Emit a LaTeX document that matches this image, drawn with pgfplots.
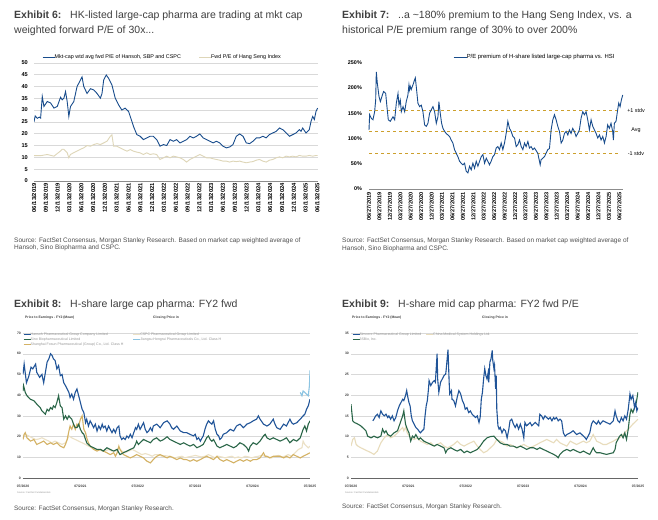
\documentclass[border=0pt]{standalone}
\usepackage{fontspec}
\setmainfont{Liberation Sans}
\usepackage{pgfplots}
\pgfplotsset{compat=1.18}

\definecolor{msblue}{RGB}{24,76,140}
\definecolor{hsibeige}{RGB}{222,214,184}
\definecolor{stdvgold}{RGB}{205,160,45}
\definecolor{gridgray}{RGB}{217,217,217}
\definecolor{txtgray}{RGB}{64,64,64}
\definecolor{srcgray}{RGB}{80,80,80}
\definecolor{leggray}{RGB}{150,150,150}
\definecolor{hansohblue}{RGB}{32,84,152}
\definecolor{sinogreen}{RGB}{42,102,72}
\definecolor{fosungold}{RGB}{212,178,100}
\definecolor{cspcbeige}{RGB}{236,225,198}
\definecolor{hengruiblue}{RGB}{140,196,226}
\definecolor{cmsbeige}{RGB}{232,220,188}

\newcommand\sz[1]{\fontsize{#1}{#1}\selectfont}

\pgfplotsset{
  msbase/.style={
    scale only axis, anchor=south west,
    axis x line*=bottom, axis y line*=left,
    y axis line style={draw=none},
    x axis line style={draw=black!45, line width=0.4pt},
    tick style={draw=none},
    legend cell align=left,
    /pgf/number format/assume math mode=true,
  },
  gridded/.style={ymajorgrids, grid style={gridgray, line width=0.4pt}},
}

\begin{document}
\begin{tikzpicture}
\path[use as bounding box, fill=white] (0,0) rectangle (658pt,-519pt);

% ---------------- titles and sources ----------------
\node[anchor=base west, inner sep=0pt, font=\sz{10.5}\bfseries, text=txtgray] at (14pt,-19pt) {Exhibit 6:};
\node[anchor=base west, inner sep=0pt, font=\sz{10.5}, text=txtgray] at (70pt,-19pt) {HK-listed large-cap pharma are trading at mkt cap};
\node[anchor=base west, inner sep=0pt, font=\sz{10.5}, text=txtgray] at (14pt,-34pt) {weighted forward P/E of 30x...};

\node[anchor=base west, inner sep=0pt, font=\sz{10.5}\bfseries, text=txtgray] at (342pt,-19pt) {Exhibit 7:};
\node[anchor=base west, inner sep=0pt, font=\sz{10.5}, text=txtgray] at (398pt,-19pt) {..a \textasciitilde180\% premium to the Hang Seng Index, vs. a};
\node[anchor=base west, inner sep=0pt, font=\sz{10.5}, text=txtgray] at (342pt,-34pt) {historical P/E premium range of 30\% to over 200\%};

\node[anchor=base west, inner sep=0pt, font=\sz{10.5}\bfseries, text=txtgray] at (14pt,-307pt) {Exhibit 8:};
\node[anchor=base west, inner sep=0pt, font=\sz{10.5}, text=txtgray] at (70pt,-307pt) {H-share large cap pharma: FY2 fwd};

\node[anchor=base west, inner sep=0pt, font=\sz{10.5}\bfseries, text=txtgray] at (342pt,-307pt) {Exhibit 9:};
\node[anchor=base west, inner sep=0pt, font=\sz{10.5}, text=txtgray] at (398pt,-307pt) {H-share mid cap pharma: FY2 fwd P/E};

\node[anchor=base west, inner sep=0pt, font=\sz{6.5}, text=srcgray] at (14pt,-242pt) {Source: FactSet Consensus, Morgan Stanley Research. Based on market cap weighted average of};
\node[anchor=base west, inner sep=0pt, font=\sz{6.5}, text=srcgray] at (14pt,-249.5pt) {Hansoh, Sino Biopharma and CSPC.};
\node[anchor=base west, inner sep=0pt, font=\sz{6.5}, text=srcgray] at (342pt,-242.5pt) {Source: FactSet Consensus, Morgan Stanley Research. Based on market cap weighted average of};
\node[anchor=base west, inner sep=0pt, font=\sz{6.5}, text=srcgray] at (342pt,-250pt) {Hansoh, Sino Biopharma and CSPC.};
\node[anchor=base west, inner sep=0pt, font=\sz{6.4}, text=srcgray] at (14pt,-510pt) {Source: FactSet Consensus, Morgan Stanley Research.};
\node[anchor=base west, inner sep=0pt, font=\sz{6.4}, text=srcgray] at (342pt,-508pt) {Source: FactSet Consensus, Morgan Stanley Research.};

\node[anchor=west, inner sep=0pt, font=\sz{3.4}\bfseries, text=txtgray] at (25pt,-318pt) {Price to Earnings - FY2 (Mean)};
\node[anchor=west, inner sep=0pt, font=\sz{3.4}\bfseries, text=txtgray] at (153pt,-318pt) {Closing Price in};
\node[anchor=west, inner sep=0pt, font=\sz{3.4}\bfseries, text=txtgray] at (352pt,-318pt) {Price to Earnings - FY2 (Mean)};
\node[anchor=west, inner sep=0pt, font=\sz{3.4}\bfseries, text=txtgray] at (482pt,-318pt) {Closing Price in};
\node[anchor=west, inner sep=0pt, font=\sz{2.4}, text=leggray] at (17pt,-493pt) {Source: FactSet Fundamentals};
\node[anchor=west, inner sep=0pt, font=\sz{2.4}, text=leggray] at (345pt,-493pt) {Source: FactSet Fundamentals};

% ---------------- Exhibit 6 ----------------
\begin{axis}[msbase, gridded,
  at={(34pt,-181pt)}, width=284pt, height=118.3pt,
  xmin=0, xmax=24.05, ymin=0, ymax=50,
  ytick={0,5,...,50},
  xtick={0,1,...,24},
  xticklabels={06/13/2019,09/13/2019,12/13/2019,03/13/2020,06/13/2020,09/13/2020,12/13/2020,03/13/2021,06/13/2021,09/13/2021,12/13/2021,03/13/2022,06/13/2022,09/13/2022,12/13/2022,03/13/2023,06/13/2023,09/13/2023,12/13/2023,03/13/2024,06/13/2024,09/13/2024,12/13/2024,03/13/2025,06/13/2025},
  x tick label style={rotate=90, anchor=east, inner sep=2pt, font=\sz{5.8}\bfseries},
  y tick label style={inner sep=0pt, xshift=-6pt, font=\sz{5.6}\bfseries},
  legend columns=2,
  legend style={at={(0.028,1.048)}, anchor=west, draw=none, fill=none, inner sep=0pt,
    font=\sz{5.4}, nodes={inner sep=0.6pt},
    /tikz/every odd column/.append style={column sep=-1pt},
    /tikz/every even column/.append style={column sep=17pt}},
  legend image code/.code={\draw[#1] (0pt,0pt) -- (12pt,0pt);},
]
\addlegendimage{msblue, line width=0.9pt}
\addlegendentry{Mkt-cap wtd avg fwd P/E of Hansoh, SBP and CSPC}
\addlegendimage{hsibeige, line width=0.9pt}
\addlegendentry{Fwd P/E of Hang Seng Index}
\addplot[hsibeige, line width=0.9pt, forget plot] coordinates {
(0,10.7)(0.56,10.7)(1.12,11.2)(1.69,10.5)(2.25,12.7)(2.39,13.4)(2.53,13.4)(2.81,12)(2.95,9.8)(3.09,11.2)(3.37,12)(3.65,12.7)(3.93,13.4)(4.21,14)(4.49,15)(4.78,14.7)(5.06,15.4)(5.34,15.8)(5.62,15.4)(5.90,16.1)(6.18,16.8)(6.46,18.9)(6.60,19.5)(6.74,14.7)(7.02,14.7)(7.30,14)(7.58,13.3)(7.87,12.6)(8.15,13.3)(8.43,12.6)(8.71,12.2)(8.99,11.9)(9.27,11.2)(9.55,11.9)(9.83,11.2)(10.11,11.5)(10.39,11.2)(10.67,9.1)(10.96,9.8)(11.24,10.5)(11.52,9.8)(11.80,10.5)(12.08,10.2)(12.36,9.8)(12.64,9.1)(12.92,8)(13.20,9.1)(13.48,9.8)(13.76,10.5)(14.04,11.2)(14.33,10.5)(14.61,9.8)(14.89,9.8)(15.17,9.4)(15.45,9.1)(15.73,8.8)(16.01,8.4)(16.29,8.4)(16.57,8)(16.85,8.4)(17.13,8.2)(17.42,8.4)(17.70,8)(17.98,7.7)(18.26,8)(18.54,8.2)(18.82,8.8)(19.10,9.1)(19.38,8.4)(19.66,8)(19.94,8.8)(20.22,9.1)(20.51,9.8)(20.79,10.2)(21.07,9.8)(21.35,10.5)(21.63,10.2)(21.91,10.5)(22.19,10.2)(22.47,10.8)(22.75,10.5)(23.03,10.5)(23.31,10.8)(23.60,10.5)(23.88,10.8)(24.02,10.8)};
\addplot[msblue, line width=0.9pt, forget plot] coordinates {
(0,25)(0.1,27.5)(0.28,26.5)(0.45,27)(0.56,26.6)(0.70,35.7)(0.84,31.5)(1.12,33.6)(1.40,33)(1.69,30.8)(1.97,31.5)(2.25,35.4)(2.39,34.3)(2.53,35)(2.67,37.8)(2.81,33.6)(2.95,27.3)(3.09,31.5)(3.37,33.6)(3.65,40)(3.79,41.3)(3.93,42.7)(4.07,44)(4.21,40)(4.49,37)(4.78,39)(5.06,38.5)(5.34,37)(5.62,35)(5.76,37)(5.90,42.7)(6.12,44.8)(6.32,43.4)(6.60,40.6)(6.88,35)(7.16,32.2)(7.44,30)(7.72,30.8)(8.01,29.4)(8.29,25.2)(8.43,23)(8.71,19.6)(8.99,18.9)(9.27,17.5)(9.55,18.2)(9.83,18.9)(10.11,18.9)(10.39,17.5)(10.67,14.7)(10.96,15.4)(11.24,15)(11.52,17.5)(11.80,16.8)(12.08,17.5)(12.36,16.1)(12.64,16.8)(12.92,17.5)(13.20,18.9)(13.48,18.2)(13.76,18.9)(14.04,19.9)(14.33,18.2)(14.61,17.5)(14.89,16.8)(15.17,16.1)(15.45,16.8)(15.73,16.1)(16.01,14.7)(16.29,14)(16.57,14.4)(16.85,15.4)(17.13,18.9)(17.42,19.9)(17.70,18.9)(17.98,16.1)(18.26,15.8)(18.54,16.8)(18.82,18.2)(19.10,18.2)(19.38,18.9)(19.66,18.2)(19.94,19.6)(20.22,20.3)(20.51,21)(20.79,22.4)(21.07,21.7)(21.35,20.3)(21.63,18.9)(21.91,19.6)(22.19,20.3)(22.47,21.7)(22.61,21)(22.75,22.4)(23.03,20.3)(23.31,21.7)(23.46,25.2)(23.60,27.3)(23.74,26)(23.88,29.4)(24.02,30.8)};
\end{axis}

% ---------------- Exhibit 7 ----------------
\begin{axis}[msbase, clip=false,
  at={(369pt,-189pt)}, width=254pt, height=126.3pt,
  xmin=0, xmax=24.35, ymin=0, ymax=250,
  ytick={0,50,...,250},
  yticklabels={0\%,50\%,100\%,150\%,200\%,250\%},
  xtick={0,1,...,24},
  xticklabels={06/27/2019,09/27/2019,12/27/2019,03/27/2020,06/27/2020,09/27/2020,12/27/2020,03/27/2021,06/27/2021,09/27/2021,12/27/2021,03/27/2022,06/27/2022,09/27/2022,12/27/2022,03/27/2023,06/27/2023,09/27/2023,12/27/2023,03/27/2024,06/27/2024,09/27/2024,12/27/2024,03/27/2025,06/27/2025},
  x tick label style={rotate=90, anchor=east, inner sep=3pt, font=\sz{5.6}\bfseries},
  y tick label style={inner sep=0pt, xshift=-7pt, font=\sz{5.4}\bfseries},
  legend style={at={(0.331,1.045)}, anchor=west, draw=none, fill=none, inner sep=0pt,
    font=\sz{5.9}, nodes={inner sep=0.6pt},
    /tikz/every odd column/.append style={column sep=-1pt}},
  legend image code/.code={\draw[#1] (0pt,0pt) -- (13pt,0pt);},
]
\addlegendimage{msblue, line width=0.9pt}
\addlegendentry{P/E premium of H-share listed large-cap pharma vs. HSI}
\addplot[stdvgold, dashed, line width=0.6pt, forget plot] coordinates {(0,156)(24.1,156)};
\addplot[stdvgold, dashed, line width=0.6pt, forget plot] coordinates {(0,114)(24.1,114)};
\addplot[stdvgold, dashed, line width=0.6pt, forget plot] coordinates {(0,71)(24.1,71)};
\addplot[msblue, line width=0.9pt, forget plot] coordinates {
(0,117)(0.06,147)(0.22,140)(0.38,137)(0.54,153)(0.64,176)(0.70,232)(0.80,209)(0.96,183)(1.09,173)(1.28,186)(1.40,193)(1.60,189)(1.72,163)(1.85,137)(2.04,134)(2.30,143)(2.46,137)(2.62,170)(2.78,189)(2.87,166)(3.00,176)(3.10,153)(3.26,163)(3.42,153)(3.57,173)(3.73,186)(3.83,206)(3.89,196)(3.96,203)(4.05,197)(4.21,206)(4.37,216)(4.44,220)(4.53,203)(4.69,170)(4.85,163)(5.01,166)(5.17,153)(5.33,127)(5.49,124)(5.65,130)(5.81,150)(5.97,157)(6.13,163)(6.29,153)(6.45,130)(6.61,143)(6.70,173)(6.83,150)(6.96,130)(7.09,120)(7.25,114)(7.40,110)(7.56,107)(7.72,104)(7.88,97)(8.04,91)(8.20,78)(8.36,71)(8.52,64)(8.68,55)(8.84,51)(9.00,48)(9.16,51)(9.32,35)(9.48,32)(9.64,45)(9.80,38)(9.96,51)(10.12,41)(10.28,55)(10.44,45)(10.60,55)(10.76,64)(10.92,68)(11.08,51)(11.24,61)(11.39,55)(11.55,48)(11.71,55)(11.87,64)(12.03,68)(12.19,81)(12.35,84)(12.51,78)(12.67,91)(12.83,78)(12.99,91)(13.15,110)(13.31,134)(13.47,120)(13.63,114)(13.79,104)(13.95,101)(14.11,84)(14.27,88)(14.43,97)(14.59,84)(14.75,78)(14.91,91)(15.06,84)(15.23,94)(15.38,81)(15.54,84)(15.70,78)(15.86,81)(16.02,76)(16.18,71)(16.41,48)(16.50,58)(16.66,61)(16.82,64)(16.98,71)(17.14,78)(17.30,80)(17.46,117)(17.62,137)(17.78,147)(17.94,137)(18.10,124)(18.26,114)(18.42,91)(18.58,97)(18.74,110)(18.90,114)(19.06,107)(19.21,117)(19.37,110)(19.53,120)(19.69,114)(19.85,104)(20.01,110)(20.17,117)(20.33,140)(20.49,153)(20.65,147)(20.81,153)(20.97,137)(21.13,117)(21.29,137)(21.45,124)(21.61,117)(21.77,110)(21.93,101)(22.09,107)(22.25,97)(22.41,104)(22.57,91)(22.73,104)(22.88,127)(23.04,120)(23.20,130)(23.36,114)(23.43,97)(23.52,130)(23.68,134)(23.84,157)(23.94,170)(24.07,163)(24.19,176)(24.32,186)};
\node[font=\sz{5.4}, inner sep=0pt] at (axis cs:25.6,156) {+1 stdv};
\node[font=\sz{5.4}, inner sep=0pt] at (axis cs:25.6,116) {Avg};
\node[font=\sz{5.4}, inner sep=0pt] at (axis cs:25.6,71) {-1 stdv};
\end{axis}

% ---------------- Exhibit 8 ----------------
\begin{axis}[msbase, gridded,
  at={(23pt,-478pt)}, width=287pt, height=145pt,
  xmin=2020.5, xmax=2025.5, ymin=0, ymax=70,
  ytick={0,10,...,70},
  xtick={2020.5,2021.5,2022.5,2023.5,2024.5,2025.5},
  xticklabels={07/2020,07/2021,07/2022,07/2023,07/2024,07/2025},
  x axis line style={draw=black!60, line width=0.5pt},
  x tick label style={inner sep=0pt, yshift=-7pt, font=\sz{3.4}\bfseries, text=txtgray},
  y tick label style={inner sep=0pt, xshift=-2pt, font=\sz{3.4}\bfseries, text=txtgray},
  legend columns=2,
  legend style={at={(0,1.005)}, anchor=north west, draw=none, fill=none, inner sep=0pt,
    font=\sz{3.55}, text=leggray,
    nodes={inner sep=0.4pt, text height=2.9pt, text depth=1.0pt},
    /tikz/every odd column/.append style={column sep=-1pt},
    /tikz/every even column/.append style={column sep=9pt}},
  legend image code/.code={\draw[#1] (0pt,0pt) -- (7pt,0pt);},
]
\addlegendimage{hansohblue, line width=1.1pt}
\addlegendentry{Hansoh Pharmaceutical Group Company Limited}
\addlegendimage{cspcbeige, line width=1.1pt}
\addlegendentry{CSPC Pharmaceutical Group Limited}
\addlegendimage{sinogreen, line width=1.1pt}
\addlegendentry{Sino Biopharmaceutical Limited}
\addlegendimage{hengruiblue, line width=1.1pt}
\addlegendentry{Jiangsu Hengrui Pharmaceuticals Co., Ltd. Class H}
\addlegendimage{fosungold, line width=1.1pt}
\addlegendentry{Shanghai Fosun Pharmaceutical (Group) Co., Ltd. Class H}
\addplot[cspcbeige, line width=1.1pt, forget plot] coordinates {
(2020.50,20.3)(2020.54,21.1)(2020.60,20.3)(2020.66,19.4)(2020.72,18.6)(2020.77,18.8)(2020.83,19.4)(2020.89,18.6)(2020.95,17.8)(2021.00,17)(2021.06,17.8)(2021.12,17)(2021.18,16.2)(2021.24,17)(2021.30,20.3)(2021.35,19.4)(2021.41,18.6)(2021.47,17.8)(2021.53,17)(2021.59,16.2)(2021.64,15.4)(2021.70,14.6)(2021.76,13.8)(2021.82,13.8)(2021.88,13)(2021.93,13)(2021.99,13.8)(2022.05,13)(2022.11,13)(2022.17,14.6)(2022.22,13)(2022.28,12.2)(2022.34,13)(2022.40,13.8)(2022.46,13)(2022.51,12.2)(2022.57,11.3)(2022.63,11.8)(2022.69,11.3)(2022.75,10.5)(2022.80,11.3)(2022.86,11.3)(2022.92,10.5)(2022.98,10.8)(2023.03,10.5)(2023.09,10.2)(2023.15,9.7)(2023.21,10.2)(2023.27,10.5)(2023.32,9.7)(2023.38,10.2)(2023.44,10.5)(2023.50,10.9)(2023.56,10.5)(2023.61,10.2)(2023.67,10.5)(2023.73,11.3)(2023.79,10.5)(2023.85,9.7)(2023.90,10.5)(2023.96,10.2)(2024.02,9.7)(2024.08,10.2)(2024.14,10.5)(2024.19,9.7)(2024.25,10.2)(2024.31,9.7)(2024.37,10.5)(2024.43,10.2)(2024.48,9.7)(2024.54,10.2)(2024.60,10.5)(2024.66,10.9)(2024.72,10.5)(2024.77,10.2)(2024.83,9.7)(2024.89,10.5)(2024.95,10.9)(2025.01,10.2)(2025.06,10.5)(2025.12,11.3)(2025.18,10.5)(2025.24,12.2)(2025.30,13.8)(2025.36,14.6)(2025.38,17.8)(2025.41,16.2)(2025.44,15.4)(2025.47,14.6)(2025.50,15.4)};
\addplot[fosungold, line width=1.1pt, forget plot] coordinates {
(2020.50,18.6)(2020.52,21.1)(2020.54,21.9)(2020.57,19.4)(2020.63,17.8)(2020.69,18.6)(2020.74,16.2)(2020.80,17)(2020.86,17.8)(2020.92,16.2)(2020.98,17)(2021.03,16.2)(2021.09,17)(2021.15,15.4)(2021.21,14.6)(2021.24,16.2)(2021.27,18.6)(2021.30,22.7)(2021.32,25.1)(2021.35,23.5)(2021.38,26)(2021.41,23.5)(2021.44,26)(2021.47,25.1)(2021.50,28.4)(2021.53,30)(2021.56,23.5)(2021.59,21.9)(2021.61,19.4)(2021.64,17)(2021.67,15.4)(2021.73,13.8)(2021.79,13)(2021.85,13.8)(2021.90,13)(2021.96,12.2)(2022.02,11.3)(2022.08,12.2)(2022.11,10.5)(2022.14,12.2)(2022.17,15.4)(2022.19,13.8)(2022.25,11.3)(2022.31,10.5)(2022.37,9.7)(2022.43,10.5)(2022.48,11.3)(2022.54,10.5)(2022.60,9.7)(2022.66,8.1)(2022.72,7.3)(2022.77,8.9)(2022.83,10.5)(2022.89,11.3)(2022.95,10.5)(2023.01,9.7)(2023.06,10.5)(2023.12,9.7)(2023.18,8.9)(2023.24,9.7)(2023.30,8.9)(2023.35,8.9)(2023.41,8.1)(2023.47,8.9)(2023.53,8.1)(2023.59,8.9)(2023.64,9.7)(2023.70,10.5)(2023.76,9.7)(2023.82,8.9)(2023.88,10.5)(2023.93,8.9)(2023.99,8.1)(2024.05,8.9)(2024.11,8.1)(2024.17,7.3)(2024.22,8.1)(2024.28,8.9)(2024.34,8.1)(2024.40,8.9)(2024.46,8.1)(2024.51,8.9)(2024.57,8.9)(2024.63,9.7)(2024.69,12.2)(2024.72,10.5)(2024.75,10.5)(2024.80,9.7)(2024.86,10.5)(2024.92,10.5)(2024.98,10.5)(2025.04,9.7)(2025.09,10.5)(2025.15,9.7)(2025.21,11.3)(2025.27,10.5)(2025.33,9.7)(2025.38,10.5)(2025.44,11.3)(2025.50,12.2)};
\addplot[sinogreen, line width=1.1pt, forget plot] coordinates {
(2020.50,42)(2020.51,44.6)(2020.54,41.3)(2020.57,39.7)(2020.63,38)(2020.69,37.3)(2020.74,35.7)(2020.80,34)(2020.83,32.4)(2020.86,31.6)(2020.89,30.8)(2020.92,33.2)(2020.95,32.4)(2020.98,34)(2021.01,33.2)(2021.03,34.8)(2021.06,34)(2021.09,36.5)(2021.12,39.7)(2021.15,34.8)(2021.18,34)(2021.21,28.4)(2021.24,30)(2021.27,28.4)(2021.30,30)(2021.32,29.2)(2021.35,28.4)(2021.38,26)(2021.41,24.3)(2021.44,24.3)(2021.47,26)(2021.50,23.5)(2021.53,21.9)(2021.56,21.1)(2021.59,18.6)(2021.61,17)(2021.67,15.4)(2021.73,14.6)(2021.79,13.8)(2021.85,13.8)(2021.90,13)(2021.96,14.6)(2022.02,13.8)(2022.08,13)(2022.14,13.8)(2022.17,12.2)(2022.19,11.3)(2022.25,12.2)(2022.31,13)(2022.37,13.8)(2022.43,14.6)(2022.46,16.2)(2022.48,17.8)(2022.51,16.2)(2022.54,17)(2022.60,18.6)(2022.66,17.8)(2022.72,17)(2022.77,18.6)(2022.83,19.4)(2022.89,17.8)(2022.95,18.6)(2023.01,19.9)(2023.06,18.6)(2023.12,17.8)(2023.18,17)(2023.24,16.2)(2023.30,17)(2023.35,16.2)(2023.41,15.4)(2023.47,16.2)(2023.53,14.6)(2023.59,15.4)(2023.64,16.2)(2023.67,17.8)(2023.70,19.4)(2023.73,20.3)(2023.76,18.6)(2023.79,17.8)(2023.82,18.6)(2023.85,17)(2023.88,15.4)(2023.93,14.6)(2023.99,15.4)(2024.05,16.2)(2024.11,15.4)(2024.17,14.6)(2024.22,15.4)(2024.28,17)(2024.34,16.2)(2024.40,14.6)(2024.43,13)(2024.46,15.4)(2024.51,17)(2024.57,16.2)(2024.63,17.8)(2024.69,20.3)(2024.72,21.1)(2024.75,19.4)(2024.80,18.6)(2024.86,19.4)(2024.92,18.6)(2024.98,17.8)(2025.04,18.6)(2025.09,19.4)(2025.15,17)(2025.21,18.6)(2025.27,17.8)(2025.33,19.4)(2025.38,23.5)(2025.41,25.1)(2025.44,22.7)(2025.47,26)(2025.50,27.6)};
\addplot[hansohblue, line width=1.1pt, forget plot] coordinates {
(2020.50,50)(2020.52,55)(2020.56,46)(2020.60,49)(2020.64,53.5)(2020.67,52.7)(2020.72,55)(2020.74,51)(2020.79,48.6)(2020.83,50)(2020.86,46)(2020.89,51)(2020.92,56)(2020.95,57.5)(2020.98,60)(2021.01,59)(2021.03,57.5)(2021.06,56.7)(2021.09,52.7)(2021.12,54.3)(2021.15,49.4)(2021.18,50)(2021.21,46)(2021.24,44.6)(2021.27,43)(2021.30,41.3)(2021.32,38.9)(2021.35,40.5)(2021.38,38)(2021.41,41.3)(2021.44,43)(2021.47,39.7)(2021.50,36.5)(2021.53,33.2)(2021.56,31.6)(2021.59,26.7)(2021.61,28.4)(2021.64,25.1)(2021.67,27.6)(2021.70,26)(2021.73,24.3)(2021.76,26)(2021.79,22.7)(2021.82,25.1)(2021.85,23.5)(2021.88,26)(2021.90,24.3)(2021.93,25.1)(2021.96,22.7)(2021.99,25.1)(2022.02,23.5)(2022.05,21.9)(2022.08,23.5)(2022.11,21.9)(2022.14,24.3)(2022.17,25.1)(2022.19,20.3)(2022.22,18.6)(2022.25,19.4)(2022.28,18.6)(2022.31,20.3)(2022.34,19.4)(2022.37,21.1)(2022.40,19.4)(2022.43,21.9)(2022.46,24.3)(2022.48,23.5)(2022.51,26)(2022.54,23.5)(2022.57,25.1)(2022.60,26.7)(2022.63,23.5)(2022.66,21.9)(2022.69,22.7)(2022.72,24.3)(2022.75,22.7)(2022.77,25.1)(2022.83,26)(2022.89,24.3)(2022.95,26.7)(2023.01,27.6)(2023.04,26.7)(2023.06,26)(2023.09,24.3)(2023.12,23.5)(2023.18,25.1)(2023.24,22.7)(2023.30,21.9)(2023.35,21.9)(2023.41,21.1)(2023.47,20.3)(2023.50,21.1)(2023.53,18.6)(2023.56,19.4)(2023.59,17.8)(2023.62,19.4)(2023.64,20.3)(2023.67,23.5)(2023.70,26)(2023.73,27.6)(2023.76,26.7)(2023.79,26)(2023.82,27.6)(2023.85,23.5)(2023.88,21.1)(2023.91,20.3)(2023.93,18.6)(2023.96,19.4)(2023.99,21.1)(2024.05,21.9)(2024.11,23.5)(2024.17,22.7)(2024.22,25.1)(2024.28,26)(2024.34,24.3)(2024.40,26)(2024.46,26.7)(2024.51,27.6)(2024.57,28.4)(2024.60,30)(2024.63,28.4)(2024.69,26)(2024.75,25.1)(2024.80,26)(2024.86,28.4)(2024.89,26)(2024.92,24.3)(2024.98,23.5)(2025.04,26)(2025.09,25.1)(2025.15,28.4)(2025.18,26.7)(2025.21,26)(2025.27,26.7)(2025.33,28.4)(2025.38,30)(2025.41,30.8)(2025.44,33.2)(2025.47,34.8)(2025.50,38)};
\addplot[hengruiblue, line width=1.1pt, forget plot] coordinates {
(2025.33,41.3)(2025.36,39.7)(2025.38,42)(2025.41,41.3)(2025.44,40.5)(2025.47,39.7)(2025.49,44.6)(2025.50,51.9)};
\end{axis}

% ---------------- Exhibit 9 ----------------
\begin{axis}[msbase, gridded,
  at={(351pt,-478pt)}, width=287pt, height=145pt,
  xmin=2020.5, xmax=2025.5, ymin=0, ymax=35,
  ytick={0,5,...,35},
  xtick={2020.5,2021.5,2022.5,2023.5,2024.5,2025.5},
  xticklabels={07/2020,07/2021,07/2022,07/2023,07/2024,07/2025},
  x axis line style={draw=black!60, line width=0.5pt},
  x tick label style={inner sep=0pt, yshift=-7pt, font=\sz{3.4}\bfseries, text=txtgray},
  y tick label style={inner sep=0pt, xshift=-2pt, font=\sz{3.4}\bfseries, text=txtgray},
  legend columns=2,
  legend style={at={(0.003,1.005)}, anchor=north west, draw=none, fill=none, inner sep=0pt,
    font=\sz{3.55}, text=leggray,
    nodes={inner sep=0.4pt, text height=2.9pt, text depth=1.0pt},
    /tikz/every odd column/.append style={column sep=-1pt},
    /tikz/every even column/.append style={column sep=4pt}},
  legend image code/.code={\draw[#1] (0pt,0pt) -- (7pt,0pt);},
]
\addlegendimage{hansohblue, line width=1.1pt}
\addlegendentry{Simcere Pharmaceutical Group Limited}
\addlegendimage{cmsbeige, line width=1.1pt}
\addlegendentry{China Medical System Holdings Ltd.}
\addlegendimage{sinogreen, line width=1.1pt}
\addlegendentry{3SBio, Inc.}
\addplot[cmsbeige, line width=1.1pt, forget plot] coordinates {
(2020.50,7.7)(2020.53,9.3)(2020.56,9.7)(2020.59,8.1)(2020.62,7.7)(2020.67,7.3)(2020.73,6.9)(2020.79,6.5)(2020.85,6.1)(2020.90,5.7)(2020.96,6.5)(2021.02,8.5)(2021.08,9.7)(2021.14,10.5)(2021.19,9.7)(2021.25,10.1)(2021.31,10.9)(2021.37,11.8)(2021.40,12.2)(2021.42,11.4)(2021.45,12.2)(2021.48,10.9)(2021.54,9.7)(2021.60,9.3)(2021.66,9.7)(2021.71,8.9)(2021.77,8.5)(2021.83,8.1)(2021.89,8.5)(2021.95,7.7)(2022.00,8.1)(2022.06,8.5)(2022.12,7.7)(2022.18,7.3)(2022.24,7.7)(2022.29,8.1)(2022.35,8.9)(2022.41,8.1)(2022.47,7.7)(2022.52,8.1)(2022.58,8.5)(2022.64,8.9)(2022.70,7.7)(2022.75,6.9)(2022.81,6.1)(2022.87,6.5)(2022.93,7.3)(2022.99,8.1)(2023.04,9.3)(2023.10,8.9)(2023.16,8.5)(2023.22,7.7)(2023.27,8.1)(2023.33,7.7)(2023.39,7.3)(2023.45,7.7)(2023.51,8.1)(2023.56,7.7)(2023.62,7.3)(2023.68,7.7)(2023.74,8.1)(2023.79,8.5)(2023.85,8.9)(2023.91,9.3)(2023.97,8.9)(2024.03,8.5)(2024.08,9.3)(2024.14,8.5)(2024.20,8.1)(2024.26,7.7)(2024.32,8.9)(2024.37,8.5)(2024.43,8.1)(2024.49,8.5)(2024.55,8.9)(2024.60,8.5)(2024.66,8.9)(2024.72,10.5)(2024.75,9.7)(2024.78,8.9)(2024.84,8.5)(2024.89,8.1)(2024.95,8.1)(2025.01,8.5)(2025.07,8.9)(2025.12,9.3)(2025.18,9.7)(2025.24,10.5)(2025.30,11.4)(2025.36,12.2)(2025.41,13)(2025.47,13.8)(2025.50,14.2)};
\addplot[sinogreen, line width=1.1pt, forget plot] coordinates {
(2020.50,17.8)(2020.53,13.8)(2020.56,13.4)(2020.62,13)(2020.67,12.6)(2020.73,11.8)(2020.76,11.4)(2020.79,10.1)(2020.85,9.7)(2020.90,10.1)(2020.96,9.7)(2021.02,10.1)(2021.05,11.8)(2021.08,10.9)(2021.11,11.4)(2021.14,10.5)(2021.19,10.1)(2021.25,10.9)(2021.31,11.4)(2021.34,12.6)(2021.37,13.8)(2021.40,15)(2021.42,16.2)(2021.45,13)(2021.48,11.8)(2021.51,10.9)(2021.54,8.9)(2021.57,10.1)(2021.60,9.7)(2021.63,10.5)(2021.66,9.7)(2021.68,9.3)(2021.71,9.7)(2021.77,8.9)(2021.83,8.5)(2021.89,8.1)(2021.95,7.7)(2022.00,8.1)(2022.06,7.7)(2022.12,7.3)(2022.15,6.1)(2022.18,6.9)(2022.24,7.3)(2022.29,6.9)(2022.35,6.5)(2022.41,6.9)(2022.47,6.1)(2022.52,6.5)(2022.58,6.1)(2022.64,6.5)(2022.70,6.9)(2022.75,7.7)(2022.81,8.9)(2022.87,9.7)(2022.93,10)(2022.99,10.1)(2023.04,9.3)(2023.10,8.5)(2023.16,8.1)(2023.22,8.1)(2023.27,7.7)(2023.33,7.7)(2023.39,7.3)(2023.45,7.7)(2023.51,7.3)(2023.56,6.9)(2023.62,7.3)(2023.68,7.3)(2023.74,6.9)(2023.79,7.3)(2023.85,6.9)(2023.91,6.5)(2023.97,6.1)(2024.03,5.7)(2024.08,5.3)(2024.11,4.9)(2024.14,5.7)(2024.20,6.5)(2024.26,6.9)(2024.32,6.5)(2024.37,6.9)(2024.43,6.5)(2024.49,6.1)(2024.55,6.5)(2024.60,6.1)(2024.66,5.7)(2024.72,7.3)(2024.75,6.5)(2024.78,6.1)(2024.84,6.1)(2024.89,5.9)(2024.95,5.7)(2025.01,5.9)(2025.07,6.1)(2025.10,6.9)(2025.12,8.5)(2025.15,9.3)(2025.18,10.1)(2025.21,10.5)(2025.24,9.7)(2025.27,10.9)(2025.30,9.3)(2025.33,11.8)(2025.36,15.4)(2025.38,16.6)(2025.41,15.8)(2025.44,17)(2025.47,18.2)(2025.50,20.7)};
\addplot[hansohblue, line width=1.1pt, forget plot] coordinates {
(2020.88,13.8)(2020.90,14.2)(2020.93,15)(2020.96,15.4)(2020.99,14.6)(2021.02,16.2)(2021.05,15.4)(2021.08,15)(2021.11,15.4)(2021.14,14.6)(2021.16,15)(2021.19,14.2)(2021.22,15)(2021.25,13.8)(2021.28,14.6)(2021.31,16.2)(2021.34,17.4)(2021.37,18.2)(2021.40,19)(2021.42,18.7)(2021.45,19.9)(2021.47,21.1)(2021.49,19.5)(2021.51,18.2)(2021.53,17.4)(2021.55,15)(2021.57,13.8)(2021.60,13)(2021.63,12.2)(2021.66,11.8)(2021.68,11.4)(2021.71,10.9)(2021.74,11.4)(2021.77,11.8)(2021.79,15)(2021.81,17.4)(2021.83,18.7)(2021.85,21.5)(2021.86,23.5)(2021.89,22.3)(2021.92,23.1)(2021.95,23.5)(2021.97,23.1)(2022.00,30)(2022.01,23.9)(2022.03,20.7)(2022.06,23.1)(2022.09,23.9)(2022.12,24.7)(2022.15,25.1)(2022.16,26.4)(2022.19,31)(2022.21,23.1)(2022.22,20.3)(2022.25,21.1)(2022.26,19)(2022.29,18.7)(2022.32,17.4)(2022.35,19.5)(2022.38,21.1)(2022.41,20.3)(2022.44,18.7)(2022.47,17.8)(2022.49,16.6)(2022.52,17)(2022.55,15.8)(2022.58,16.2)(2022.61,15.4)(2022.64,15)(2022.67,14.6)(2022.70,15)(2022.73,13.4)(2022.75,14.6)(2022.77,19)(2022.79,20.7)(2022.81,23.9)(2022.83,26.4)(2022.85,24.7)(2022.87,23.9)(2022.89,25.5)(2022.90,23.1)(2022.92,28)(2022.94,28.8)(2022.96,30.8)(2022.97,28.4)(2022.99,26.4)(2023.00,27.2)(2023.02,21.5)(2023.03,24.7)(2023.04,16.6)(2023.06,12.6)(2023.08,11.8)(2023.10,12.2)(2023.13,10.9)(2023.16,11.8)(2023.19,11.4)(2023.22,9.7)(2023.25,11.8)(2023.27,13.8)(2023.30,14.2)(2023.33,13)(2023.36,12.2)(2023.39,13)(2023.42,11.8)(2023.45,13)(2023.48,11.8)(2023.51,9.7)(2023.53,13.4)(2023.56,12.6)(2023.59,13)(2023.62,13.4)(2023.65,12.6)(2023.68,13)(2023.71,13.4)(2023.74,13)(2023.77,12.6)(2023.79,15.4)(2023.82,15)(2023.85,14.2)(2023.88,15)(2023.91,14.6)(2023.94,14.2)(2023.97,14.6)(2024.00,13.8)(2024.03,14.6)(2024.05,14.2)(2024.08,14.6)(2024.11,13.8)(2024.14,14.2)(2024.17,13.8)(2024.20,10.9)(2024.23,10.1)(2024.26,10.5)(2024.32,10.9)(2024.37,11.4)(2024.43,10.5)(2024.49,10.9)(2024.55,10.1)(2024.58,9.7)(2024.60,9.3)(2024.63,10.1)(2024.66,10.9)(2024.69,13)(2024.72,13.8)(2024.78,13)(2024.81,13.8)(2024.84,13)(2024.89,13.8)(2024.95,13.4)(2025.01,13)(2025.07,13.8)(2025.10,16.2)(2025.12,15)(2025.15,13.8)(2025.18,13.4)(2025.21,14.6)(2025.24,13.8)(2025.27,15)(2025.30,14.2)(2025.33,16.6)(2025.36,20.3)(2025.38,19)(2025.41,19.9)(2025.44,17)(2025.46,18.2)(2025.48,16.2)(2025.50,17)};
\end{axis}
\end{tikzpicture}
\end{document}
